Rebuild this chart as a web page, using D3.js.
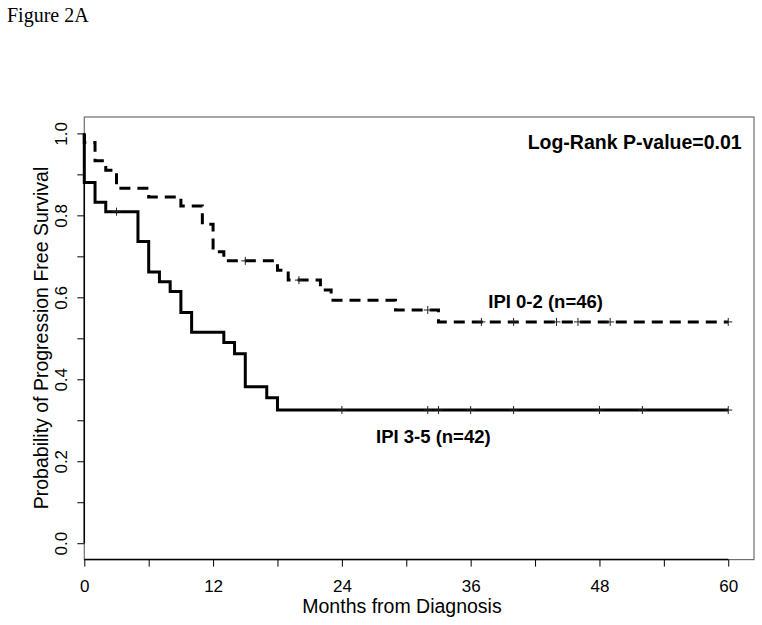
<!DOCTYPE html>
<html>
<head>
<meta charset="utf-8">
<script src="https://cdn.jsdelivr.net/npm/d3@7"></script>
<style>
  body { margin: 0; background: #fff; }
  svg { display: block; }
  text { font-family: "Liberation Sans", Arial, sans-serif; fill: #000; }
</style>
</head>
<body>
<svg id="canvas" width="762" height="625"></svg>
<script>
// --- data ---
var ipiLowTimes = [0, 0, 1, 2, 3, 6, 9, 11, 12, 13, 18, 19, 22, 23, 29, 33, 60];
var ipiLowSurv = [1.0, 0.978, 0.933, 0.910, 0.866, 0.845, 0.823, 0.778, 0.711, 0.689, 0.666, 0.642, 0.618, 0.593, 0.569, 0.540, 0.540];
var ipiLowCensor = [15, 20, 32, 37, 40, 44, 46, 49, 60];

var ipiHighTimes = [0, 0, 1, 2, 5, 6, 7, 8, 9, 10, 13, 14, 15, 17, 18, 60];
var ipiHighSurv = [1.0, 0.880, 0.832, 0.809, 0.736, 0.662, 0.638, 0.614, 0.563, 0.515, 0.490, 0.462, 0.382, 0.355, 0.325, 0.325];
var ipiHighCensor = [3, 24, 32, 33, 36, 40, 48, 52, 60];

var xTicks = [0, 6, 12, 18, 24, 30, 36, 42, 48, 54, 60];
var xTickLabels = ["0", "12", "24", "36", "48", "60"];
var yTicks = [0, 0.1, 0.2, 0.3, 0.4, 0.5, 0.6, 0.7, 0.8, 0.9, 1.0];
var yTickLabels = ["0.0", "0.2", "0.4", "0.6", "0.8", "1.0"];

var svg = d3.select("#canvas");

var x = d3.scaleLinear().domain([0, 62.4]).range([84.3, 754]);
var y = d3.scaleLinear().domain([-0.04, 1.04]).range([559.6, 117]);

// figure caption
svg.append("text")
  .attr("x", 7).attr("y", 22)
  .style("font-family", "'Liberation Serif', 'Times New Roman', serif")
  .style("font-size", "20px")
  .text("Figure 2A");

// plot box
svg.append("rect")
  .attr("x", x(0)).attr("y", y(1.04))
  .attr("width", x(62.4) - x(0)).attr("height", y(-0.04) - y(1.04))
  .attr("fill", "none").attr("stroke", "#6e6e6e").attr("stroke-width", 1.2);

// --- axes ---
var xAxis = svg.append("g")
  .attr("transform", "translate(0," + y(-0.04) + ")")
  .call(d3.axisBottom(x).tickValues(xTicks).tickSize(7)
    .tickFormat(function(d) { return xTickLabels.indexOf(String(d)) >= 0 ? String(d) : ""; }));
xAxis.select(".domain").attr("d", "M" + x(0) + ",0H" + x(60)).attr("stroke-width", 1.5);
xAxis.selectAll("text").attr("y", 32).attr("dy", 0)
  .style("font-size", "17px").style("font-family", "'Liberation Sans', Arial, sans-serif");

var yAxis = svg.append("g")
  .attr("transform", "translate(" + x(0) + ",0)")
  .call(d3.axisLeft(y).tickValues(yTicks).tickSize(7)
    .tickFormat(function(d) {
      var s = d.toFixed(1);
      return yTickLabels.indexOf(s) >= 0 ? s : "";
    }));
yAxis.select(".domain").attr("d", "M0," + y(0) + "V" + y(1)).attr("stroke-width", 1.5);
yAxis.selectAll("text")
  .attr("transform", "rotate(-90)")
  .attr("x", 0).attr("y", -17).attr("dy", 0)
  .attr("text-anchor", "middle")
  .style("font-size", "17px").style("font-family", "'Liberation Sans', Arial, sans-serif");

// axis titles
svg.append("text")
  .attr("x", 402).attr("y", 612.7)
  .attr("text-anchor", "middle")
  .style("font-size", "19.5px")
  .text("Months from Diagnosis");

svg.append("text")
  .attr("transform", "translate(48,338) rotate(-90)")
  .attr("text-anchor", "middle")
  .style("font-size", "19.5px")
  .text("Probability of Progression Free Survival");

// --- survival curves ---
var step = d3.line()
  .x(function(d) { return x(d[0]); })
  .y(function(d) { return y(d[1]); })
  .curve(d3.curveStepAfter);

function survAt(times, surv, t) {
  var v = surv[0];
  for (var i = 0; i < times.length; i++) {
    if (times[i] <= t) v = surv[i];
  }
  return v;
}

function drawCurve(times, surv, censor, dashed) {
  var pts = d3.zip(times, surv);
  svg.append("path")
    .attr("d", step(pts))
    .attr("fill", "none")
    .attr("stroke", "#000")
    .attr("stroke-width", 3)
    .attr("stroke-dasharray", dashed ? "11,7" : null);

  svg.selectAll(null)
    .data(censor)
    .enter().append("path")
    .attr("transform", function(t) { return "translate(" + x(t) + "," + y(survAt(times, surv, t)) + ")"; })
    .attr("d", "M-4,0H4M0,-4V4")
    .attr("stroke", "#222")
    .attr("stroke-width", 1);
}

drawCurve(ipiLowTimes, ipiLowSurv, ipiLowCensor, true);
drawCurve(ipiHighTimes, ipiHighSurv, ipiHighCensor, false);

// annotations
svg.append("text")
  .attr("x", 741.7).attr("y", 148.7)
  .attr("text-anchor", "end")
  .style("font-size", "19.5px").style("font-weight", "bold")
  .text("Log-Rank P-value=0.01");

svg.append("text")
  .attr("x", 488.3).attr("y", 308.3)
  .style("font-size", "18.5px").style("font-weight", "bold")
  .text("IPI 0-2 (n=46)");

svg.append("text")
  .attr("x", 376).attr("y", 443.3)
  .style("font-size", "18.5px").style("font-weight", "bold")
  .text("IPI 3-5 (n=42)");
</script>
</body>
</html>
